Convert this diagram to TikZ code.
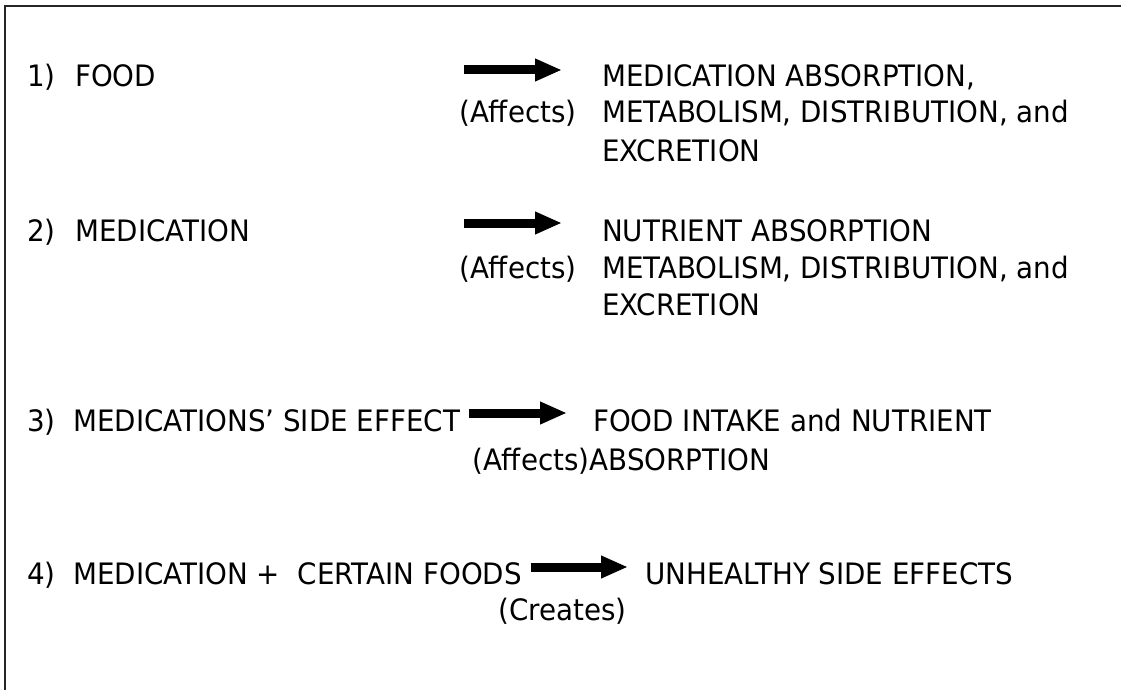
\documentclass[tikz,border=0pt]{standalone}
\usepackage{fontspec}
\setmainfont{DejaVu Sans}[FakeStretch=0.94]
\usetikzlibrary{arrows.meta}
\begin{document}
\begin{tikzpicture}[x=1pt,y=-1pt,
  txt/.style={anchor=base west, inner sep=0pt, font=\fontsize{29.5}{35}\selectfont},
  bigarrow/.style={line width=9pt, -{Triangle[length=27pt,width=21pt]}},
  frameline/.style={line width=2pt, draw=black!85}]
\useasboundingbox (0,0) rectangle (1121,690);
% frame (only top and left edges visible)
\coordinate (fb) at (5,692);
\coordinate (fc) at (5,6);
\coordinate (fr) at (1123,6);
\draw[frameline] (fb) -- (fc) -- (fr);

% Row 1
\node[txt] (n1) at (27,87) {1)};
\node[txt] (l1) at (75,87) {FOOD};
\coordinate (a1s) at (464,70);
\coordinate (a1e) at (562,70);
\draw[bigarrow] (a1s) -- (a1e);
\node[txt] (v1) at (459,123) {(Affects)};
\node[txt] (r1a) at (602,87) {MEDICATION ABSORPTION,};
\node[txt] (r1b) at (602,123) {METABOLISM, DISTRIBUTION, and};
\node[txt] (r1c) at (602,161) {EXCRETION};

% Row 2
\node[txt] (n2) at (27,241) {2)};
\node[txt] (l2) at (75,241) {MEDICATION};
\coordinate (a2s) at (464,223);
\coordinate (a2e) at (562,223);
\draw[bigarrow] (a2s) -- (a2e);
\node[txt] (v2) at (459,278) {(Affects)};
\node[txt] (r2a) at (602,241) {NUTRIENT ABSORPTION};
\node[txt] (r2b) at (602,278) {METABOLISM, DISTRIBUTION, and};
\node[txt] (r2c) at (602,315) {EXCRETION};

% Row 3
\node[txt] (n3) at (27,431) {3)};
\node[txt] (l3) at (73,431) {MEDICATIONS’ SIDE EFFECT};
\coordinate (a3s) at (469,413);
\coordinate (a3e) at (567,413);
\draw[bigarrow] (a3s) -- (a3e);
\node[txt] (r3a) at (593,431) {FOOD INTAKE and NUTRIENT};
\node[txt] (r3b) at (472,470) {(Affects)ABSORPTION};

% Row 4
\node[txt] (n4) at (27,584) {4)};
\node[txt] (l4) at (73,584) {MEDICATION +\ \ CERTAIN FOODS};
\coordinate (a4s) at (531,567);
\coordinate (a4e) at (628,567);
\draw[bigarrow] (a4s) -- (a4e);
\node[txt] (r4) at (645,584) {UNHEALTHY SIDE EFFECTS};
\node[txt] (v4) at (498,620) {(Creates)};
\end{tikzpicture}
\end{document}
